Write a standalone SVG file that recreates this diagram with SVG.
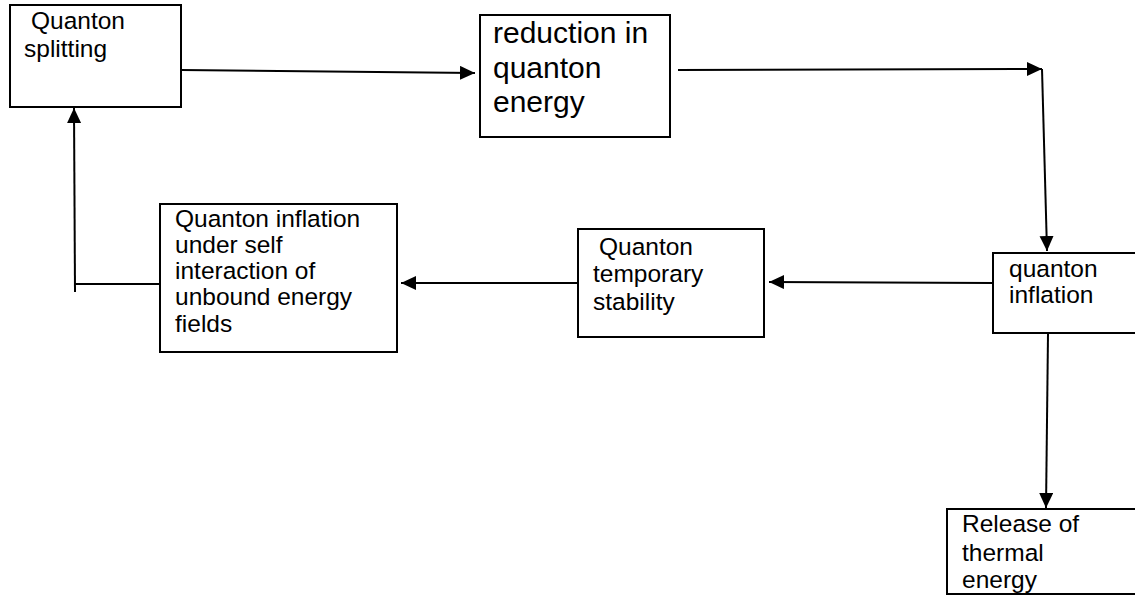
<svg xmlns="http://www.w3.org/2000/svg" width="1135" height="604" viewBox="0 0 1135 604">
<defs>
<style>
.box{fill:#fff;stroke:#000;stroke-width:2}
.t{font-family:"Liberation Sans",Arial,sans-serif;font-size:24.5px;fill:#000}
.tb{font-family:"Liberation Sans",Arial,sans-serif;font-size:30px;fill:#000}
.c{stroke:#000;stroke-width:2;fill:none}
</style>
<marker id="ah" markerUnits="userSpaceOnUse" markerWidth="18" markerHeight="16" refX="15" refY="7" orient="auto">
<path d="M0,0 L15,7 L0,14 Z" fill="#000"/>
</marker>
</defs>
<rect width="1135" height="604" fill="#fff"/>
<g id="connectors">
<line class="c" x1="181" y1="70" x2="475" y2="73" marker-end="url(#ah)"/>
<line class="c" x1="678" y1="70" x2="1042" y2="69" marker-end="url(#ah)"/>
<line class="c" x1="1042" y1="69" x2="1047" y2="251" marker-end="url(#ah)"/>
<line class="c" x1="992" y1="283" x2="769" y2="282" marker-end="url(#ah)"/>
<line class="c" x1="580" y1="283" x2="401" y2="283" marker-end="url(#ah)"/>
<line class="c" x1="160" y1="284" x2="75" y2="284"/>
<line class="c" x1="75" y1="292" x2="74" y2="108" marker-end="url(#ah)"/>
<line class="c" x1="1048" y1="334" x2="1046" y2="508" marker-end="url(#ah)"/>
</g>
<g id="n1">
<rect class="box" x="10" y="5" width="171" height="102"/>
<text class="t" x="31" y="29">Quanton</text>
<text class="t" x="24" y="57">splitting</text>
</g>
<g id="n2">
<rect class="box" x="480" y="15" width="190" height="122"/>
<text class="tb" x="493" y="43">reduction in</text>
<text class="tb" x="493" y="78">quanton</text>
<text class="tb" x="493" y="112">energy</text>
</g>
<g id="n3">
<rect class="box" x="993" y="253" width="150" height="80"/>
<text class="t" x="1009" y="277">quanton</text>
<text class="t" x="1009" y="303">inflation</text>
</g>
<g id="n4">
<rect class="box" x="578" y="229" width="186" height="108"/>
<text class="t" x="599" y="255">Quanton</text>
<text class="t" x="593" y="282">temporary</text>
<text class="t" x="593" y="310">stability</text>
</g>
<g id="n5">
<rect class="box" x="160" y="204" width="237" height="148"/>
<text class="t" x="175" y="227">Quanton inflation</text>
<text class="t" x="175" y="253">under self</text>
<text class="t" x="175" y="279">interaction of</text>
<text class="t" x="175" y="305">unbound energy</text>
<text class="t" x="175" y="332">fields</text>
</g>
<g id="n6">
<rect class="box" x="947" y="509" width="200" height="85"/>
<text class="t" x="962" y="532">Release of</text>
<text class="t" x="962" y="561">thermal</text>
<text class="t" x="962" y="588">energy</text>
</g>
</svg>
